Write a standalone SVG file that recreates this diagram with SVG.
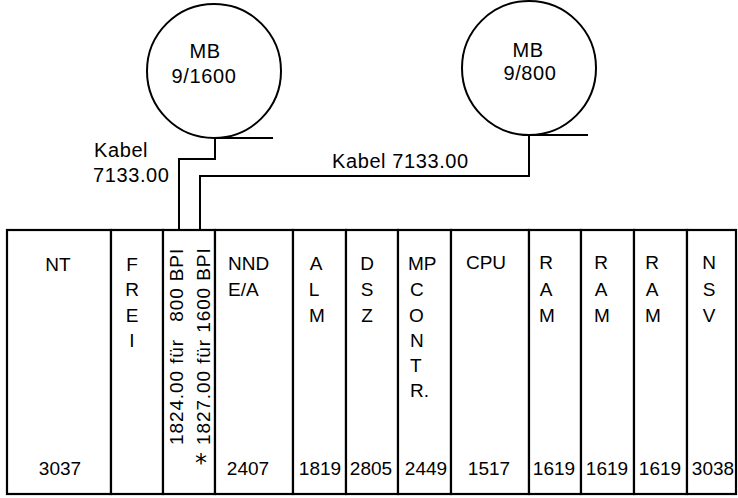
<svg xmlns="http://www.w3.org/2000/svg" width="738" height="498" viewBox="0 0 738 498">
<style>
text{font-family:"Liberation Sans",Arial,sans-serif;fill:#000}
.t{font-size:20px;letter-spacing:0.6px}
.r{font-size:19px}
.m{text-anchor:middle}
.v{font-size:19px;letter-spacing:0.9px}
.box{fill:#fff;stroke:#000;stroke-width:2.2}
.tape{fill:#fff;stroke:#000;stroke-width:2}
.wire{fill:none;stroke:#000;stroke-width:2}
</style>
<rect width="738" height="498" fill="#fff"/>
<g id="mb1600">
<circle class="tape" cx="214" cy="71" r="67"/>
<text class="t m" x="205" y="58">MB</text>
<text class="t m" x="204" y="83">9/1600</text>
</g>
<g id="mb800">
<circle class="tape" cx="529" cy="68" r="67"/>
<text class="t m" x="528" y="57">MB</text>
<text class="t m" x="530" y="80">9/800</text>
</g>
<g id="connectors">
<path class="wire" d="M273 138H215V159H179V230"/>
<path class="wire" d="M588 135H529V176H200V230"/>
<text class="t" x="94" y="157">Kabel</text>
<text class="t" x="93" y="182">7133.00</text>
<text class="t" x="332" y="168">Kabel 7133.00</text>
</g>
<g id="nt">
<rect class="box" x="7" y="230" width="104" height="264"/>
<text class="r m" x="58" y="271">NT</text>
<text class="r m" x="60" y="475">3037</text>
</g>
<g id="frei">
<rect class="box" x="111" y="230" width="52" height="264"/>
<text class="r m" x="132" y="271">F</text>
<text class="r m" x="132" y="296">R</text>
<text class="r m" x="132" y="322">E</text>
<text class="r m" x="132" y="347">I</text>
</g>
<g id="bpi">
<rect class="box" x="163" y="230" width="52" height="264"/>
<text class="v" transform="translate(183,445) rotate(-90)">1824.00 für <tspan dx="11">800 BPI</tspan></text>
<text class="v" transform="translate(210,445) rotate(-90)">1827.00 für 1600 BPI</text>
<text x="201" y="471" style="font-family:'DejaVu Sans',sans-serif;font-size:24px;text-anchor:middle">*</text>
</g>
<g id="nnd">
<rect class="box" x="215" y="230" width="78" height="264"/>
<text class="r" x="228" y="270">NND</text>
<text class="r" x="228" y="296">E/A</text>
<text class="r m" x="248" y="475">2407</text>
</g>
<g id="alm">
<rect class="box" x="293" y="230" width="53" height="264"/>
<text class="r m" x="316" y="270">A</text>
<text class="r m" x="314" y="296">L</text>
<text class="r m" x="317" y="322">M</text>
<text class="r m" x="320" y="475">1819</text>
</g>
<g id="dsz">
<rect class="box" x="346" y="230" width="52" height="264"/>
<text class="r m" x="367" y="270">D</text>
<text class="r m" x="367" y="296">S</text>
<text class="r m" x="367" y="322">Z</text>
<text class="r m" x="371" y="475">2805</text>
</g>
<g id="mpcontr">
<rect class="box" x="398" y="230" width="53" height="264"/>
<text class="r" x="408" y="270">MP</text>
<text class="r" x="410" y="296">C</text>
<text class="r" x="409" y="322">O</text>
<text class="r" x="410" y="347">N</text>
<text class="r" x="410" y="372">T</text>
<text class="r" x="410" y="397">R.</text>
<text class="r m" x="426" y="475">2449</text>
</g>
<g id="cpu">
<rect class="box" x="451" y="230" width="78" height="264"/>
<text class="r m" x="486" y="269">CPU</text>
<text class="r m" x="489" y="475">1517</text>
</g>
<g id="ram1">
<rect class="box" x="529" y="230" width="52" height="264"/>
<text class="r m" x="546" y="269">R</text>
<text class="r m" x="546" y="296">A</text>
<text class="r m" x="547" y="322">M</text>
<text class="r m" x="554" y="475">1619</text>
</g>
<g id="ram2">
<rect class="box" x="581" y="230" width="53" height="264"/>
<text class="r m" x="601" y="269">R</text>
<text class="r m" x="601" y="296">A</text>
<text class="r m" x="602" y="322">M</text>
<text class="r m" x="607" y="475">1619</text>
</g>
<g id="ram3">
<rect class="box" x="634" y="230" width="53" height="264"/>
<text class="r m" x="652" y="269">R</text>
<text class="r m" x="652" y="296">A</text>
<text class="r m" x="653" y="322">M</text>
<text class="r m" x="660" y="475">1619</text>
</g>
<g id="nsv">
<rect class="box" x="687" y="230" width="49" height="264"/>
<text class="r m" x="709" y="269">N</text>
<text class="r m" x="709" y="296">S</text>
<text class="r m" x="709" y="322">V</text>
<text class="r m" x="713" y="475">3038</text>
</g>
</svg>
